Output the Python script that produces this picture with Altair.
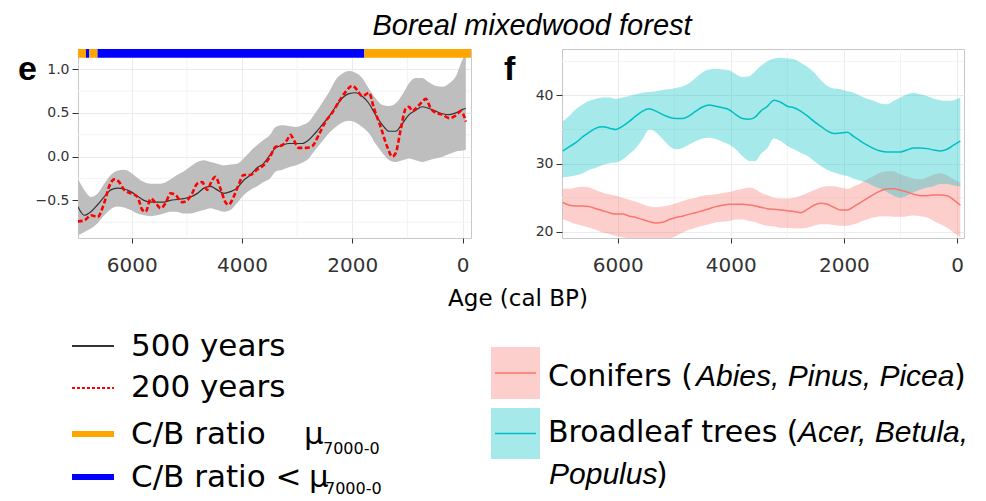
import altair as alt
import pandas as pd

UP = "DejaVu Sans"
IT = "Liberation Sans"

TITLE = "Boreal mixedwood forest"

# ---------------- panel e : C/B ratio ----------------
e_age = [6980, 6860, 6740, 6620, 6500, 6380, 6260, 6140, 6020, 5900, 5780, 5660, 5540, 5420, 5300,
         5180, 5060, 4930, 4810, 4690, 4570, 4450, 4330, 4210, 4090, 3970, 3850, 3730, 3610, 3490,
         3390, 3270, 3150, 3030, 2910, 2790, 2670, 2550, 2420, 2300, 2180, 2060, 1940, 1820, 1700,
         1580, 1450, 1330, 1210, 1090, 970, 850, 730, 610, 490, 360, 240, 120, 0, -60]
e_500 = [-0.57, -0.67, -0.63, -0.55, -0.46, -0.38, -0.36, -0.37, -0.40, -0.45, -0.50, -0.52, -0.52, -0.52, -0.50,
         -0.49, -0.48, -0.46, -0.42, -0.36, -0.34, -0.38, -0.42, -0.40, -0.36, -0.27, -0.21, -0.13, -0.08, 0.02,
         0.10, 0.13, 0.15, 0.15, 0.15, 0.19, 0.27, 0.36, 0.46, 0.57, 0.67, 0.72, 0.73, 0.69, 0.61,
         0.48, 0.36, 0.29, 0.29, 0.38, 0.48, 0.53, 0.57, 0.55, 0.52, 0.49, 0.48, 0.50, 0.54, 0.55]
e_hi = [-0.25, -0.38, -0.46, -0.42, -0.31, -0.21, -0.16, -0.15, -0.18, -0.24, -0.29, -0.31, -0.31, -0.30, -0.26,
        -0.21, -0.17, -0.11, -0.06, -0.04, -0.06, -0.08, -0.10, -0.09, -0.08, -0.02, 0.06, 0.13, 0.19, 0.25,
        0.34, 0.36, 0.35, 0.34, 0.36, 0.40, 0.50, 0.61, 0.74, 0.88, 0.95, 0.98, 0.96, 0.90, 0.78,
        0.67, 0.59, 0.58, 0.61, 0.71, 0.84, 0.90, 0.90, 0.85, 0.81, 0.80, 0.84, 0.92, 1.11, 1.18]
e_lo = [-0.90, -0.86, -0.82, -0.76, -0.67, -0.60, -0.57, -0.58, -0.61, -0.65, -0.67, -0.68, -0.67, -0.65, -0.63,
        -0.63, -0.65, -0.65, -0.63, -0.61, -0.59, -0.61, -0.63, -0.61, -0.53, -0.44, -0.38, -0.34, -0.29, -0.25,
        -0.17, -0.15, -0.12, -0.10, -0.07, -0.02, 0.08, 0.17, 0.27, 0.34, 0.39, 0.41, 0.39, 0.34, 0.27,
        0.15, 0.04, -0.04, -0.06, -0.04, -0.02, -0.04, -0.06, -0.04, -0.02, 0.00, 0.03, 0.06, 0.07, 0.08]

e200_age = [6981, 6861, 6740, 6620, 6500, 6409, 6319, 6229, 6138, 6018, 5898, 5807, 5747, 5657, 5566,
            5476, 5386, 5296, 5205, 5085, 4995, 4904, 4814, 4724, 4633, 4543, 4483, 4393, 4302, 4242,
            4152, 4061, 3971, 3851, 3730, 3610, 3490,
            3394, 3273, 3182, 3121, 3061, 2970, 2848, 2727, 2606, 2485, 2364, 2242, 2121, 2000, 1909,
            1818, 1697, 1606, 1485, 1364, 1273, 1212, 1121, 1030, 970, 909, 818, 727, 667, 576, 485,
            364, 242, 121, 30, -60]
e200 = [-0.74, -0.73, -0.67, -0.69, -0.53, -0.34, -0.26, -0.29, -0.38, -0.42, -0.46, -0.61, -0.63, -0.48, -0.53,
        -0.59, -0.53, -0.42, -0.44, -0.52, -0.50, -0.42, -0.31, -0.29, -0.38, -0.27, -0.23, -0.36, -0.52, -0.55,
        -0.46, -0.32, -0.21, -0.21, -0.15, -0.10, 0.00,
        0.11, 0.13, 0.19, 0.25, 0.19, 0.10, 0.10, 0.12, 0.25, 0.40, 0.50, 0.63, 0.74, 0.81, 0.76,
        0.69, 0.73, 0.55, 0.34, 0.11, 0.00, 0.04, 0.31, 0.55, 0.57, 0.52, 0.57, 0.63, 0.66, 0.55, 0.50,
        0.48, 0.44, 0.47, 0.52, 0.40]

bar_start = [6975, 6831, 6771, 6620, 1780]
bar_end = [6831, 6771, 6620, 1780, -154]
bar_state = ["above", "below", "above", "below", "above"]

# ---------------- panel f : conifers / broadleaf ----------------
f_age = [6970, 6853, 6735, 6617, 6500, 6382, 6265, 6147, 6029, 5912, 5794, 5677, 5559, 5441, 5324,
         5206, 5089, 4971, 4853, 4736, 4618, 4500, 4383, 4265, 4148, 4030, 3912, 3795, 3677, 3559,
         3470, 3353, 3235, 3118, 3000, 2882, 2765, 2647, 2530, 2412, 2294, 2176, 2059, 1941, 1824,
         1706, 1588, 1471, 1353, 1235, 1118, 1000, 882, 765, 647, 529, 412, 294, 176, 59, -59]
broad_m = [31.85, 32.5, 33.1, 33.95, 34.6, 35.2, 35.4, 35.2, 35.0, 35.5, 36.2, 37.0, 37.7, 38.05, 37.7,
           37.2, 36.8, 36.6, 36.6, 37.0, 37.7, 38.3, 38.6, 38.4, 38.2, 37.9, 37.2, 36.6, 36.5, 36.9,
           37.7, 38.4, 39.3, 39.0, 38.4, 38.2, 37.7, 37.0, 36.2, 35.5, 34.8, 34.4, 34.5, 34.6, 33.95,
           33.3, 32.7, 32.2, 31.85, 31.7, 31.7, 31.7, 32.0, 32.3, 32.3, 32.2, 32.0, 31.85, 32.1, 32.7, 33.3]
broad_hi = [36.2, 37.0, 38.0, 38.7, 39.2, 39.5, 39.7, 39.7, 39.5, 39.7, 39.9, 40.15, 40.4, 40.5, 40.6,
            40.8, 40.9, 41.1, 41.3, 41.8, 42.6, 43.4, 43.8, 43.9, 43.8, 43.7, 43.1, 42.7, 42.8, 43.6,
            44.3, 45.0, 45.4, 45.5, 45.4, 45.3, 44.8, 44.2, 43.4, 42.3, 41.4, 41.0, 40.9, 40.6, 40.4,
            39.9, 39.5, 39.2, 38.8, 38.7, 39.2, 39.7, 40.15, 40.4, 40.15, 39.9, 39.5, 39.3, 39.2, 39.3, 39.7]
broad_lo = [28.0, 28.1, 28.3, 28.6, 29.1, 29.4, 29.8, 30.05, 30.15, 30.6, 31.4, 32.3, 33.6, 35.0, 34.6,
            33.6, 32.6, 32.1, 32.3, 32.8, 33.3, 33.7, 33.8, 33.6, 33.2, 32.8, 32.1, 31.1, 30.4, 30.4,
            31.4, 32.3, 33.7, 33.3, 32.6, 32.1, 31.6, 31.1, 30.4, 29.7, 29.1, 28.7, 28.4, 28.2, 27.8,
            27.5, 27.2, 26.7, 26.3, 25.8, 25.3, 25.0, 25.3, 25.8, 26.2, 26.5, 26.7, 27.0, 27.0, 26.8, 26.7]
con_m = [24.3, 23.9, 23.8, 23.8, 23.7, 23.4, 23.1, 22.8, 22.6, 22.6, 22.3, 22.1, 21.8, 21.5, 21.3,
         21.4, 21.8, 22.1, 22.3, 22.6, 22.8, 23.1, 23.4, 23.7, 23.9, 24.05, 24.05, 24.05, 23.95, 23.8,
         23.6, 23.4, 23.3, 23.2, 23.1, 23.0, 22.8, 23.3, 23.9, 24.2, 24.05, 23.6, 23.2, 23.2, 23.7,
         24.3, 24.9, 25.5, 26.0, 26.3, 26.3, 26.1, 25.85, 25.5, 25.3, 25.3, 25.4, 25.4, 25.3, 24.7, 23.9]
con_hi = [26.3, 26.3, 26.5, 26.6, 26.5, 26.1, 25.75, 25.5, 25.3, 25.0, 24.7, 24.4, 24.05, 23.7, 23.6,
          23.7, 23.9, 24.2, 24.5, 24.8, 25.0, 25.3, 25.4, 25.5, 25.7, 25.85, 26.1, 26.3, 26.5, 26.2,
          25.75, 25.4, 25.0, 24.9, 24.9, 25.0, 25.3, 25.7, 26.1, 26.5, 26.7, 26.7, 26.5, 26.3, 26.7,
          27.1, 27.7, 28.2, 28.7, 28.9, 28.9, 28.4, 28.1, 27.8, 27.7, 27.95, 28.4, 28.6, 28.3, 27.7, 27.2]
con_lo = [21.85, 21.5, 21.1, 20.9, 20.6, 20.3, 19.9, 19.7, 19.4, 19.2, 19.0, 18.9, 18.8, 18.8, 18.8,
          18.9, 19.0, 19.4, 19.9, 20.3, 20.6, 20.9, 21.1, 21.4, 21.5, 21.6, 21.8, 21.8, 21.6, 21.4,
          21.1, 20.9, 20.8, 20.6, 20.6, 20.5, 20.5, 20.6, 20.9, 21.1, 21.1, 21.0, 20.9, 20.9, 21.1,
          21.5, 21.85, 22.1, 22.3, 22.3, 22.2, 22.2, 22.3, 22.4, 22.3, 22.1, 21.6, 21.1, 20.6, 19.9, 19.2]

x_ticks = [6000, 4000, 2000, 0]
x_minor = [5000, 3000, 1000]
ye_ticks = [-0.5, 0.0, 0.5, 1.0]
ye_minor = [-0.75, -0.25, 0.25, 0.75]
yf_ticks = [20, 30, 40]
yf_minor = [25, 35, 45]

GRID = "#EBEBEB"
MINOR = "#F3F3F3"
BORDER = "#C8C8C8"


def x_axis():
    return alt.Axis(values=x_ticks, format="d", grid=True, gridColor=GRID, domain=False,
                    tickColor="#333333", tickSize=5, labelFont=UP, labelFontSize=20,
                    labelColor="#333333", labelPadding=12)


def y_axis(vals, fmt):
    return alt.Axis(values=vals, format=fmt, grid=True, gridColor=GRID, domain=False,
                    tickColor="#333333", tickSize=6, labelFont=UP, labelFontSize=14,
                    labelColor="#333333", labelPadding=3)


def txt(s, x, y, font=UP, size=30, style="normal", weight="normal", baseline="alphabetic", align="left"):
    return alt.Chart(pd.DataFrame({"t": [s]})).mark_text(
        align=align, baseline=baseline, font=font, fontSize=size, fontStyle=style, fontWeight=weight,
        color="black"
    ).encode(x=alt.value(x), y=alt.value(y), text="t:N")


def seg(x1, x2, y, color, width, dash=None):
    kw = dict(color=color, strokeWidth=width)
    if dash:
        kw["strokeDash"] = dash
    return alt.Chart(pd.DataFrame({"t": [0]})).mark_rule(**kw).encode(
        x=alt.value(x1), x2=alt.value(x2), y=alt.value(y))


def box(x1, x2, y1, y2, color):
    return alt.Chart(pd.DataFrame({"t": [0]})).mark_rect(color=color, opacity=0.35).encode(
        x=alt.value(x1), x2=alt.value(x2), y=alt.value(y1), y2=alt.value(y2))


# ---- panel e
xe = alt.Scale(domain=[6975, -154], nice=False, zero=False)
ye = alt.Scale(domain=[-0.93, 1.23], nice=False, zero=False)
e_df = pd.DataFrame({"age": e_age, "m500": e_500, "lo": e_lo, "hi": e_hi})
r_df = pd.DataFrame({"age": e200_age, "v": e200})
b_df = pd.DataFrame({"start": bar_start, "end": bar_end, "state": bar_state})
ex = lambda f: alt.X(f, scale=xe, axis=x_axis(), title=None)
ey = lambda f: alt.Y(f, scale=ye, axis=y_axis(ye_ticks, ".1f"), title=None)

e_minx = alt.Chart(pd.DataFrame({"v": x_minor})).mark_rule(color=MINOR, strokeWidth=1).encode(x=ex("v:Q"))
e_miny = alt.Chart(pd.DataFrame({"v": ye_minor})).mark_rule(color=MINOR, strokeWidth=1).encode(y=ey("v:Q"))
e_band = alt.Chart(e_df).mark_area(color="#BEBEBE", opacity=1, clip=True, interpolate="monotone").encode(
    x=ex("age:Q"), y=ey("lo:Q"), y2="hi:Q")
e_bar = alt.Chart(b_df).mark_rect(clip=True).encode(
    x=ex("start:Q"), x2="end:Q", y=alt.datum(1.13), y2=alt.datum(1.23),
    color=alt.Color("state:N", scale=alt.Scale(domain=["above", "below"], range=["#FFA500", "#0000FF"]),
                    legend=None))
e_black = alt.Chart(e_df).mark_line(color="#333333", strokeWidth=1.2, interpolate="monotone", clip=True).encode(
    x=ex("age:Q"), y=ey("m500:Q"))
e_red = alt.Chart(r_df).mark_line(color="#FF0000", strokeWidth=2.6, strokeDash=[5, 2.5],
                                  interpolate="monotone", clip=True).encode(x=ex("age:Q"), y=ey("v:Q"))

# title, left legend + shared x title (positions relative to panel e)
e_extra = [
    txt(TITLE, 454, -14, font=IT, size=29, style="italic", align="center"),
    txt("e", -60, 31, font=IT, size=34, weight="bold"),
    txt("Age (cal BP)", 440, 250, size=23, baseline="middle", align="center"),
    seg(-6, 36, 297, "#333333", 2),
    txt("500 years", 53, 307, size=31),
    seg(-6, 36, 339, "#FF0000", 2, [3, 2]),
    txt("200 years", 53, 348, size=31),
    seg(-6, 36, 385, "#FFA500", 6),
    txt("C/B ratio", 53, 395, size=31),
    txt("μ", 226, 395, size=31),
    txt("7000-0", 245, 405, size=16),
    seg(-6, 36, 428, "#0000FF", 6),
    txt("C/B ratio <", 53, 438, size=31),
    txt("μ", 231, 438, size=31),
    txt("7000-0", 247, 445, size=16),
]
panel_e = alt.layer(e_minx, e_miny, e_band, e_bar, e_black, e_red, *e_extra).properties(
    width=393, height=189, view=alt.ViewBackground(stroke=BORDER, fill="white"))

# ---- panel f
xf = alt.Scale(domain=[6985, -124], nice=False, zero=False)
yf = alt.Scale(domain=[19.1, 46.8], nice=False, zero=False)
f_df = pd.DataFrame({"age": f_age, "bm": broad_m, "bh": broad_hi, "bl": broad_lo,
                     "cm": con_m, "ch": con_hi, "cl": con_lo})
fx = lambda f: alt.X(f, scale=xf, axis=x_axis(), title=None)
fy = lambda f: alt.Y(f, scale=yf, axis=y_axis(yf_ticks, "d"), title=None)
f_minx = alt.Chart(pd.DataFrame({"v": x_minor})).mark_rule(color=MINOR, strokeWidth=1).encode(x=fx("v:Q"))
f_miny = alt.Chart(pd.DataFrame({"v": yf_minor})).mark_rule(color=MINOR, strokeWidth=1).encode(y=fy("v:Q"))
c_band = alt.Chart(f_df).mark_area(color="#F8766D", opacity=0.35, clip=True, interpolate="monotone").encode(
    x=fx("age:Q"), y=fy("cl:Q"), y2="ch:Q")
b_band = alt.Chart(f_df).mark_area(color="#00BFC4", opacity=0.35, clip=True, interpolate="monotone").encode(
    x=fx("age:Q"), y=fy("bl:Q"), y2="bh:Q")
c_line = alt.Chart(f_df).mark_line(color="#F8766D", strokeWidth=1.5, interpolate="monotone", clip=True).encode(
    x=fx("age:Q"), y=fy("cm:Q"))
b_line = alt.Chart(f_df).mark_line(color="#00BFC4", strokeWidth=1.5, interpolate="monotone", clip=True).encode(
    x=fx("age:Q"), y=fy("bm:Q"))

# right legend (positions relative to panel f)
f_extra = [
    txt("f", -58, 31, font=IT, size=34, weight="bold"),
    box(-71, -22, 298, 350, "#F8766D"),
    seg(-67, -26, 324, "#F8766D", 1.5),
    box(-71, -22, 359, 410, "#00BFC4"),
    seg(-67, -26, 384.5, "#00BFC4", 1.5),
    txt("Conifers (", -14, 337),
    txt("Abies, Pinus, Picea", 134, 337, font=IT, style="italic"),
    txt(")", 392, 337),
    txt("Broadleaf trees (", -14, 393),
    txt("Acer, Betula,", 236, 393, font=IT, style="italic"),
    txt("Populus", -13, 435, font=IT, style="italic"),
    txt(")", 94, 435),
]
panel_f = alt.layer(f_minx, f_miny, c_band, b_band, c_line, b_line, *f_extra).properties(
    width=402, height=189, view=alt.ViewBackground(stroke=BORDER, fill="white"))

chart = alt.hconcat(panel_e, panel_f, spacing=91, bounds="flush").properties(
    padding={"left": 9, "top": 3, "right": 0, "bottom": 0},
).configure_view(stroke="transparent")

chart.save("out.html", embed_options={"renderer": "svg", "actions": False})
